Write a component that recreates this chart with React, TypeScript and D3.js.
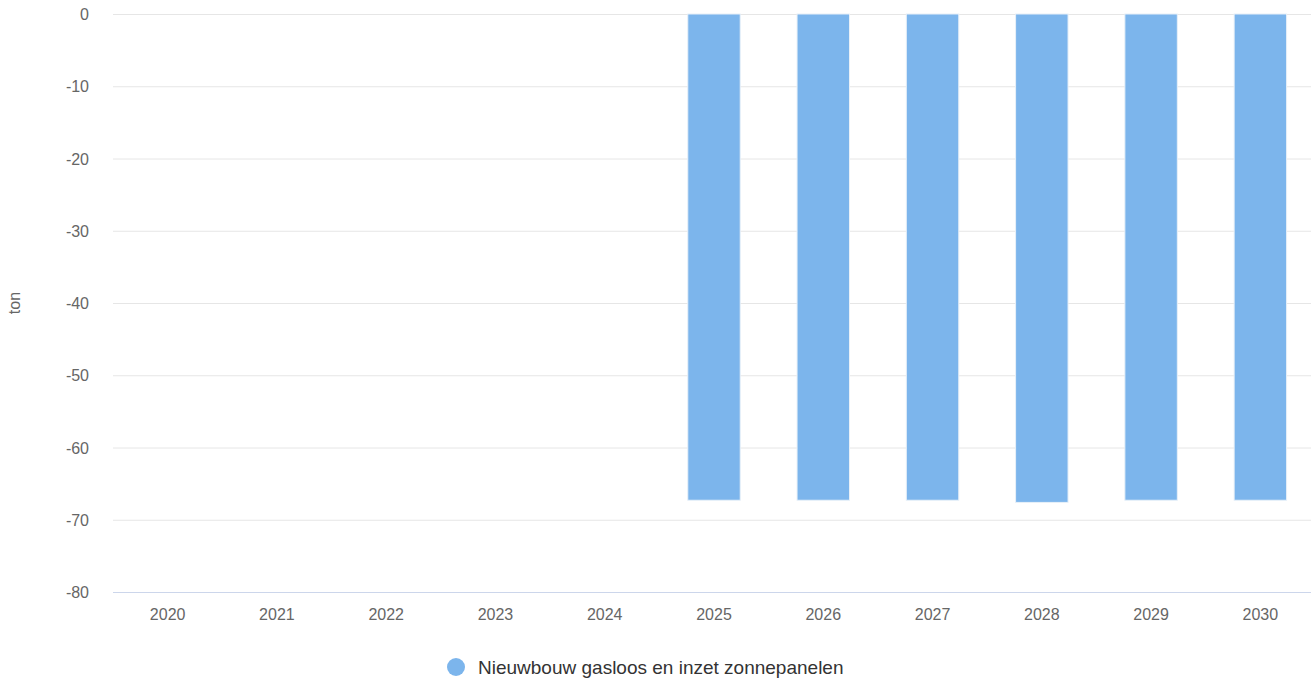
import React from "react";
import * as d3 from "d3";

const categories = ["2020", "2021", "2022", "2023", "2024", "2025", "2026", "2027", "2028", "2029", "2030"];
const values = [0, 0, 0, 0, 0, -67.3, -67.3, -67.3, -67.6, -67.3, -67.3];
const yTicks = [0, -10, -20, -30, -40, -50, -60, -70, -80];
const seriesName = "Nieuwbouw gasloos en inzet zonnepanelen";
const yTitle = "ton";

const W = 1311;
const H = 682;
const left = 113;
const right = 1315;
const gridRight = 1311;
const top = 14;
const bottom = 592;
const font = "'Liberation Sans', Arial, sans-serif";

export default function App() {
  const x = d3.scaleBand<string>().domain(categories).range([left, right]).paddingInner(0.52).paddingOuter(0.26);
  const y = d3.scaleLinear().domain([-80, 0]).range([bottom, top]);
  const xc = d3.scaleBand<string>().domain(categories).range([left, right]);

  return (
    <svg width={W} height={H} style={{ position: "absolute", left: 0, top: 0, background: "#fff" }} fontFamily={font}>
      {yTicks.map((t) => (
        <g key={t}>
          {t !== -80 && (
            <line x1={left} x2={gridRight} y1={y(t) + 0.5} y2={y(t) + 0.5} stroke="#e6e6e6" strokeWidth={1} />
          )}
          <text x={89} y={y(t) + 6} textAnchor="end" fontSize={16} fill="#666">
            {t}
          </text>
        </g>
      ))}
      <text
        transform={`translate(20,${(top + bottom) / 2}) rotate(-90)`}
        textAnchor="middle"
        fontSize={16}
        fill="#666"
      >
        {yTitle}
      </text>
      {values.map((v, i) =>
        v !== 0 ? (
          <rect
            key={i}
            x={x(categories[i])!}
            y={y(0)}
            width={x.bandwidth()}
            height={y(v) - y(0)}
            fill="#7cb5ec"
            stroke="#e8f0f8"
            strokeWidth={1}
          />
        ) : null
      )}
      <line x1={left} x2={gridRight} y1={bottom + 0.5} y2={bottom + 0.5} stroke="#ccd6eb" strokeWidth={1} />
      {categories.map((c) => (
        <text key={c} x={xc(c)! + xc.bandwidth() / 2} y={620} textAnchor="middle" fontSize={16} fill="#666">
          {c}
        </text>
      ))}
      <circle cx={456} cy={667} r={9} fill="#7cb5ec" />
      <text x={478} y={674} fontSize={19} fill="#333">
        {seriesName}
      </text>
    </svg>
  );
}
